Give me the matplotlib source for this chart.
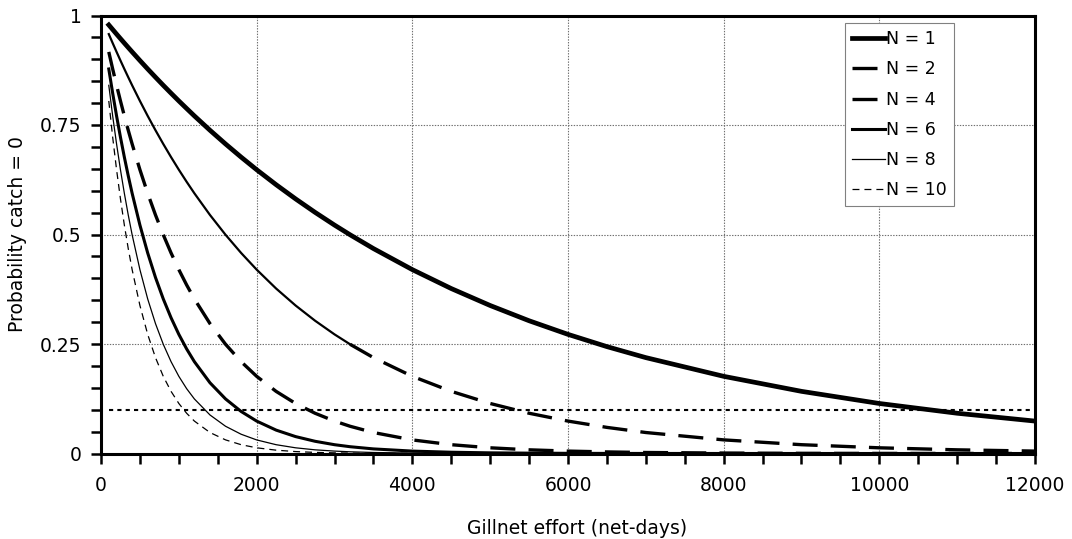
import matplotlib
matplotlib.use("Agg")
import matplotlib.pyplot as plt
from matplotlib.ticker import MultipleLocator, FuncFormatter

plt.rcParams['font.family'] = ['DejaVu Sans']
plt.rcParams['lines.scale_dashes'] = False

# gillnet effort (net-days) at which the probabilities were evaluated
effort = [100, 150, 200, 250, 300, 350, 400, 500, 600, 700, 800, 900, 1000,
          1100, 1200, 1400, 1600, 1800, 2000, 2250, 2500, 2750, 3000, 3200,
          3500, 4000, 4500, 5000, 5500, 6000, 6500, 7000, 8000, 9000, 10000,
          11000, 12000]

# probability that the catch is zero, one series per number of fish N
p_zero_n1 = [0.9785, 0.9680, 0.9575, 0.9472, 0.9370, 0.9269, 0.9169, 0.8972,
             0.8779, 0.8591, 0.8406, 0.8226, 0.8049, 0.7877, 0.7707, 0.7380,
             0.7067, 0.6767, 0.6479, 0.6137, 0.5813, 0.5506, 0.5215, 0.4994,
             0.4679, 0.4198, 0.3766, 0.3379, 0.3031, 0.2720, 0.2440, 0.2189,
             0.1762, 0.1419, 0.1142, 0.0919, 0.0740]
p_zero_n2 = [0.9575, 0.9370, 0.9169, 0.8972, 0.8779, 0.8591, 0.8406, 0.8049,
             0.7707, 0.7380, 0.7067, 0.6767, 0.6479, 0.6204, 0.5940, 0.5446,
             0.4994, 0.4579, 0.4198, 0.3766, 0.3379, 0.3032, 0.2720, 0.2494,
             0.2189, 0.1762, 0.1419, 0.1142, 0.0919, 0.0740, 0.0596, 0.0479,
             0.0311, 0.0201, 0.0130, 0.0084, 0.0055]
p_zero_n4 = [0.9169, 0.8779, 0.8406, 0.8049, 0.7707, 0.7380, 0.7067, 0.6479,
             0.5940, 0.5446, 0.4994, 0.4579, 0.4198, 0.3849, 0.3528, 0.2966,
             0.2494, 0.2097, 0.1762, 0.1418, 0.1142, 0.0919, 0.0740, 0.0622,
             0.0479, 0.0310, 0.0201, 0.0130, 0.0084, 0.0055, 0.0036, 0.0023,
             0.0010, 0.0004, 0.0002, 0.0001, 0.00003]
p_zero_n6 = [0.8779, 0.8226, 0.7707, 0.7222, 0.6766, 0.6340, 0.5941, 0.5215,
             0.4578, 0.4019, 0.3529, 0.3099, 0.2720, 0.2388, 0.2096, 0.1615,
             0.1246, 0.0960, 0.0740, 0.0534, 0.0386, 0.0279, 0.0201, 0.0155,
             0.0105, 0.0055, 0.0029, 0.0015, 0.0008, 0.0004, 0.0002, 0.0001,
             0.00003, 0.0, 0.0, 0.0, 0.0]
p_zero_n8 = [0.8406, 0.7707, 0.7067, 0.6479, 0.5940, 0.5446, 0.4994, 0.4198,
             0.3528, 0.2966, 0.2494, 0.2097, 0.1762, 0.1481, 0.1245, 0.0880,
             0.0622, 0.0440, 0.0310, 0.0201, 0.0130, 0.0084, 0.0055, 0.0039,
             0.0023, 0.0010, 0.0004, 0.0002, 0.0001, 0.0, 0.0, 0.0, 0.0, 0.0,
             0.0, 0.0, 0.0]
p_zero_n10 = [0.8049, 0.7221, 0.6480, 0.5813, 0.5215, 0.4679, 0.4198, 0.3379,
              0.2719, 0.2189, 0.1762, 0.1419, 0.1142, 0.0919, 0.0740, 0.0479,
              0.0311, 0.0201, 0.0130, 0.0076, 0.0044, 0.0025, 0.0015, 0.0010,
              0.0005, 0.0002, 0.0001, 0.0, 0.0, 0.0, 0.0, 0.0, 0.0, 0.0, 0.0,
              0.0, 0.0]

# 10 % reference level
ref_effort = [100, 12000]
ref_level = [0.1, 0.1]

series_labels = ['N = 1', 'N = 2', 'N = 4', 'N = 6', 'N = 8', 'N = 10']

fig = plt.figure(figsize=(10.72, 5.39), dpi=100)
ax = fig.add_axes([101 / 1072, 1 - 453.5 / 539, 934 / 1072, 438 / 539])

long_dash = (18, 9.5)
ax.plot(effort, p_zero_n1, color='k', lw=3.4, label=series_labels[0])
# N = 2 shows as a solid trace on the steep part, dashed afterwards
k = effort.index(3200)
ax.plot(effort[:k + 1], p_zero_n2[:k + 1], color='k', lw=1.6)
ax.plot(effort[k:], p_zero_n2[k:], color='k', lw=2.4, dashes=long_dash,
        dash_capstyle='butt', label=series_labels[1])
ax.plot(effort, p_zero_n4, color='k', lw=2.4, dashes=long_dash,
        dash_capstyle='butt', label=series_labels[2])
ax.plot(effort, p_zero_n6, color='k', lw=2.2, label=series_labels[3])
ax.plot(effort, p_zero_n8, color='k', lw=0.9, label=series_labels[4])
ax.plot(effort, p_zero_n10, color='k', lw=0.9, dashes=(5, 3.6),
        label=series_labels[5])
ax.plot(ref_effort, ref_level, color='k', lw=1.5, dashes=(3, 3),
        dash_capstyle='butt')

ax.set_xlim(0, 12000)
ax.set_ylim(0, 1)
ax.xaxis.set_major_locator(MultipleLocator(2000))
ax.xaxis.set_minor_locator(MultipleLocator(500))
ax.yaxis.set_major_locator(MultipleLocator(0.25))
ax.yaxis.set_minor_locator(MultipleLocator(0.05))
ax.yaxis.set_major_formatter(FuncFormatter(lambda v, _: f'{v:g}'))

ax.grid(True, which='major', color='#707070', linestyle=(0, (1, 1)), lw=0.8)
ax.set_axisbelow(True)

ax.tick_params(which='both', direction='out', length=7.5, width=1.8,
               top=False, right=False, labelsize=13.5)
ax.tick_params(axis='x', pad=9)
ax.tick_params(axis='y', pad=6.5)
for sp in ax.spines.values():
    sp.set_linewidth(2.2)

ax.set_xlabel('Gillnet effort (net-days)', fontsize=13.5)
ax.set_ylabel('Probability catch = 0', fontsize=13.5)
ax.xaxis.set_label_coords(0.51, -0.149)
ax.yaxis.set_label_coords(-0.079, 0.5)

leg = ax.legend(loc='upper right', bbox_to_anchor=(0.9133, 0.982),
                borderaxespad=0, fontsize=12.5, handlelength=1.9,
                handletextpad=0.1, labelspacing=0.7, borderpad=0.4,
                fancybox=False, framealpha=1)
leg.get_frame().set_edgecolor('#808080')
leg.get_frame().set_linewidth(0.8)

fig.savefig('out.png', dpi=100)
